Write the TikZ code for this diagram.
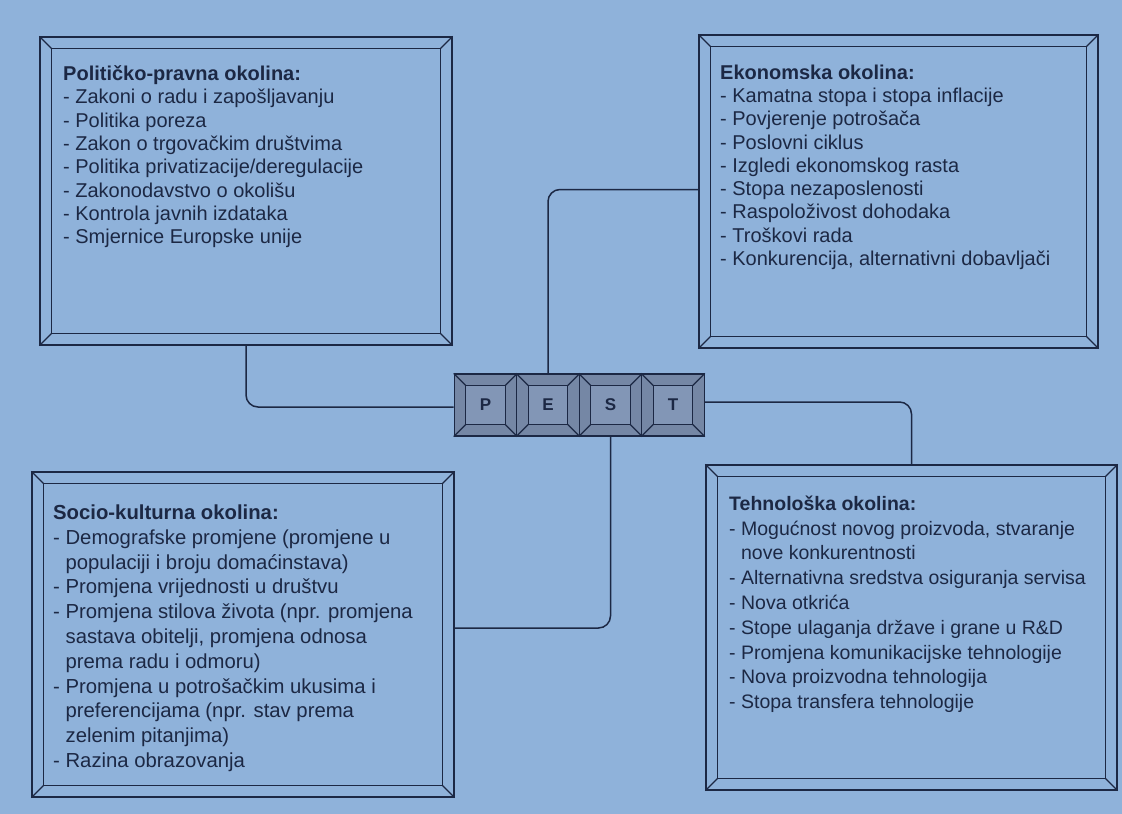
\documentclass[tikz,border=0pt]{standalone}
\usepackage{fontspec}
\setmainfont{Liberation Sans}
\definecolor{paper}{RGB}{143,178,218}
\definecolor{ink}{RGB}{28,40,68}
\definecolor{keybev}{RGB}{117,135,165}
\definecolor{keyface}{RGB}{130,150,182}
\tikzset{
  frameline/.style={draw=ink, line width=1.2pt},
  boxframe/.style={frameline, rectangle, inner sep=0pt},
  keybox/.style={frameline, fill=keybev, rectangle, inner sep=0pt, minimum width=62.5, minimum height=62},
  conn/.style={draw=ink, line width=1.5pt, rounded corners=12pt},
  boxtext/.style={anchor=north west, inner sep=0pt, align=left, text=ink},
  toptext/.style={boxtext, font={\fontsize{20}{23.3}\selectfont}},
  bottext/.style={boxtext, font={\fontsize{20.3}{24.8}\selectfont}},
  techtext/.style={boxtext, font={\fontsize{19.5}{24.8}\selectfont}},
  keyletter/.style={text=ink, font={\fontsize{17}{20}\selectfont\bfseries}}
}
\newcommand\bevelframe[2]{%
  \draw[frameline] ([shift={(#2,#2)}]#1.north west) rectangle ([shift={(-#2,-#2)}]#1.south east);
  \draw[frameline] (#1.north west) -- ++(#2,#2) (#1.north east) -- ++(-#2,#2)
    (#1.south west) -- ++(#2,-#2) (#1.south east) -- ++(-#2,-#2);}
\newcommand\keyframe[2]{%
  \draw[frameline, fill=keyface] ([shift={(#2,#2)}]#1.north west) rectangle ([shift={(-#2,-#2)}]#1.south east);
  \draw[frameline] (#1.north west) -- ++(#2,#2) (#1.north east) -- ++(-#2,#2)
    (#1.south west) -- ++(#2,-#2) (#1.south east) -- ++(-#2,-#2);}
\begin{document}
\begin{tikzpicture}[x=1pt, y=-1pt]
\useasboundingbox (0,0) rectangle (1122,814);
\fill[paper] (0,0) rectangle (1122,814);

% boxes
\node[boxframe, minimum width=412, minimum height=308] (pol) at (246,191) {};
\bevelframe{pol}{12}
\node[boxframe, minimum width=399, minimum height=313] (eko) at (898.5,191.5) {};
\bevelframe{eko}{12}
\node[boxframe, minimum width=422, minimum height=325] (soc) at (243,634.5) {};
\bevelframe{soc}{12}
\node[boxframe, minimum width=411, minimum height=325] (teh) at (911.5,627.5) {};
\bevelframe{teh}{12}

% keys
\node[keybox] (P) at (485.5,405) {};
\keyframe{P}{12}
\node[keybox] (E) at (548,405) {};
\keyframe{E}{12}
\node[keybox] (S) at (610.5,405) {};
\keyframe{S}{12}
\node[keybox] (T) at (673,405) {};
\keyframe{T}{12}
\node[keyletter] (lP) at (P) {P};
\node[keyletter] (lE) at (E) {E};
\node[keyletter] (lS) at (S) {S};
\node[keyletter] (lT) at (T) {T};

% connectors
\draw[conn] (pol.south) |- ([yshift=-2pt]P.west);
\draw[conn] (E.north) |- ([yshift=2pt]eko.west);
\draw[conn] ([yshift=3pt]T.east) -| (teh.north);
\draw[conn] (S.south) |- ([yshift=6.5pt]soc.east);

% texts
\node[toptext] (tpol) at (63,65.5) {\textbf{Političko-pravna okolina:}\\
- Zakoni o radu i zapošljavanju\\
- Politika poreza\\
- Zakon o trgovačkim društvima\\
- Politika privatizacije/deregulacije\\
- Zakonodavstvo o okolišu\\
- Kontrola javnih izdataka\\
- Smjernice Europske unije};

\node[toptext] (teko) at (720,64.5) {\textbf{Ekonomska okolina:}\\
- Kamatna stopa i stopa inflacije\\
- Povjerenje potrošača\\
- Poslovni ciklus\\
- Izgledi ekonomskog rasta\\
- Stopa nezaposlenosti\\
- Raspoloživost dohodaka\\
- Troškovi rada\\
- Konkurencija, alternativni dobavljači};

\node[bottext] (tsoc) at (53,504.5) {\textbf{Socio-kulturna okolina:}\\
- Demografske promjene (promjene u\\
\hphantom{- }populaciji i broju domaćinstava)\\
- Promjena vrijednosti u društvu\\
- Promjena stilova života (npr. promjena\\
\hphantom{- }sastava obitelji, promjena odnosa\\
\hphantom{- }prema radu i odmoru)\\
- Promjena u potrošačkim ukusima i\\
\hphantom{- }preferencijama (npr. stav prema\\
\hphantom{- }zelenim pitanjima)\\
- Razina obrazovanja};

\node[techtext] (tteh) at (729,495.5) {\textbf{Tehnološka okolina:}\\
- Mogućnost novog proizvoda, stvaranje\\
\hphantom{- }nove konkurentnosti\\
- Alternativna sredstva osiguranja servisa\\
- Nova otkrića\\
- Stope ulaganja države i grane u R\&D\\
- Promjena komunikacijske tehnologije\\
- Nova proizvodna tehnologija\\
- Stopa transfera tehnologije};
\end{tikzpicture}
\end{document}
